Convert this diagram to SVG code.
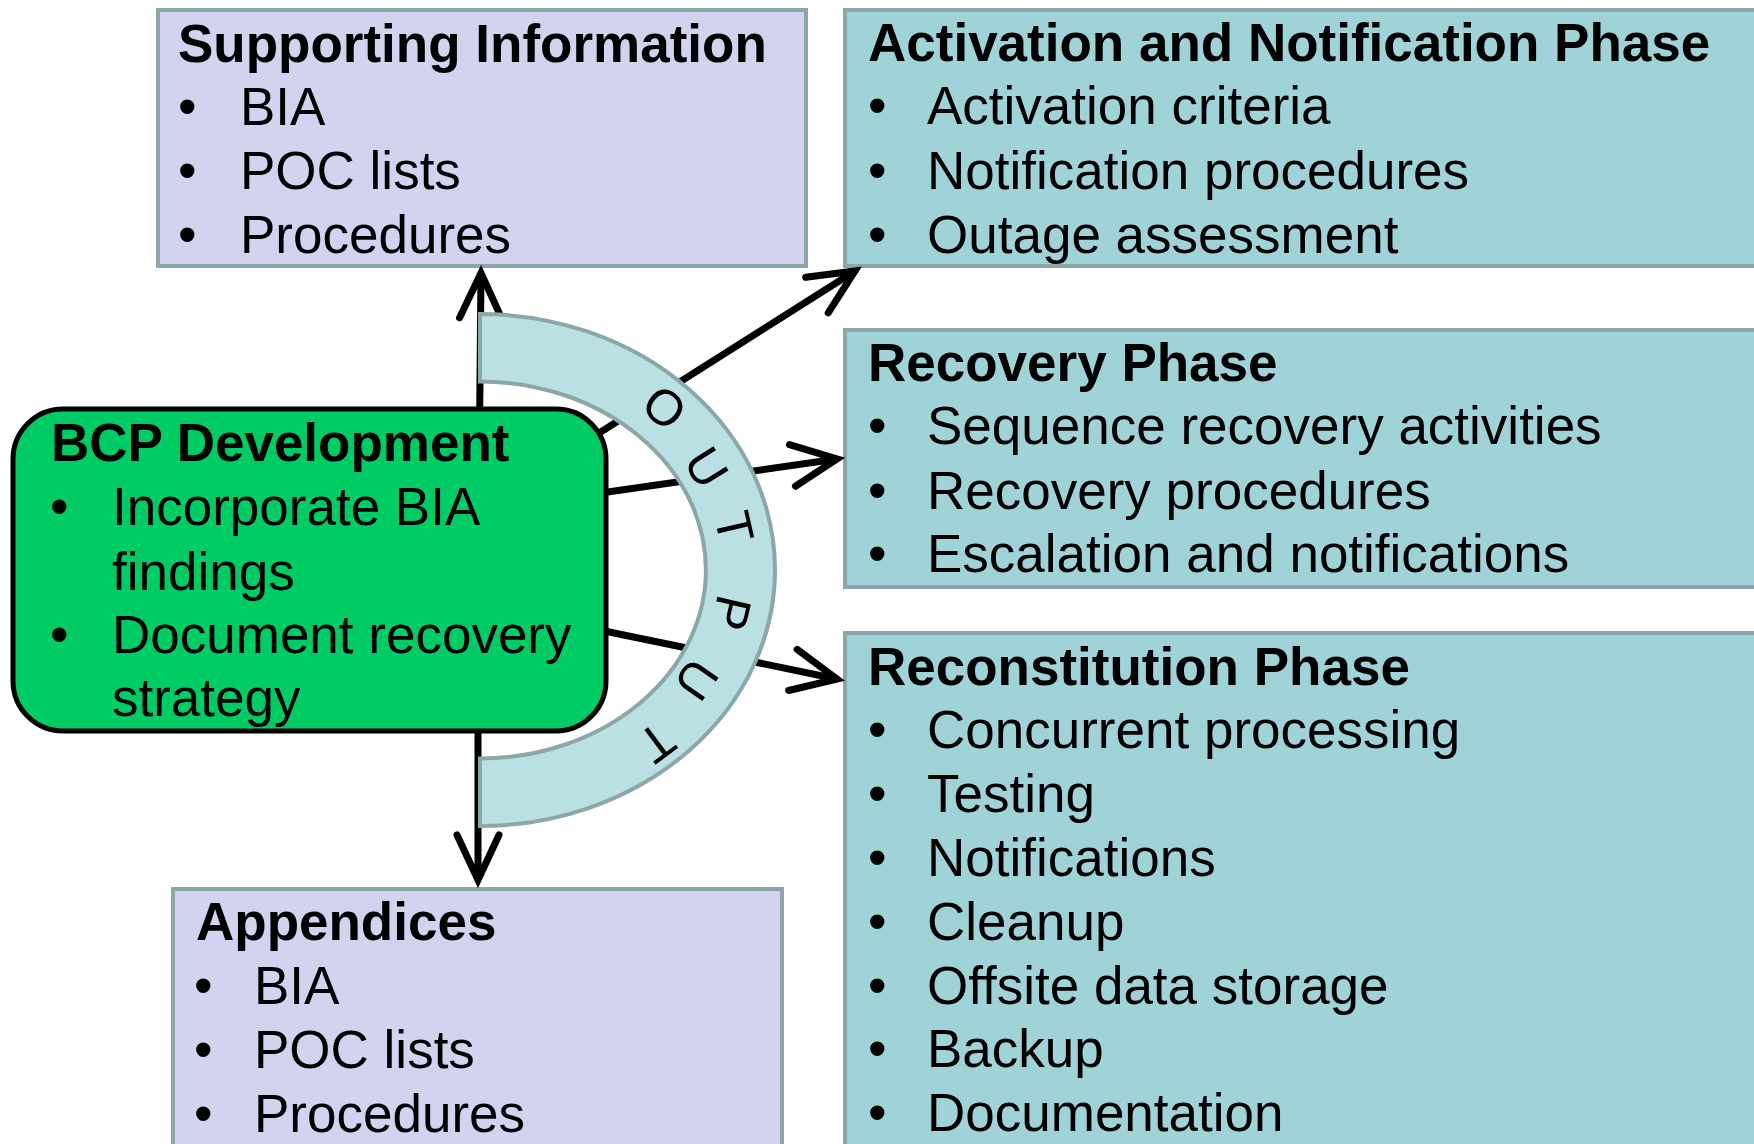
<svg xmlns="http://www.w3.org/2000/svg" width="1754" height="1144" viewBox="0 0 1754 1144">
<defs>
<style>
.t{font-family:"Liberation Sans",Arial,sans-serif;font-size:53px;fill:#000}
.b{font-weight:bold}
.lav{fill:#D1D3EF;stroke:#8BA7A9;stroke-width:4}
.teal{fill:#A0D3D8;stroke:#8BA7A9;stroke-width:4}
.conn{stroke:#000;stroke-width:7;fill:none;marker-end:url(#ah)}
.arcl{font-family:"Liberation Sans",Arial,sans-serif;font-size:50px;fill:#000;text-anchor:middle}
</style>
<marker id="ah" markerUnits="userSpaceOnUse" viewBox="-60 -30 70 60" refX="0" refY="0" markerWidth="70" markerHeight="60" orient="auto" overflow="visible">
<path d="M-45,-21 L0,0 L-45,21" fill="none" stroke="#000" stroke-width="7" stroke-linecap="round" stroke-linejoin="miter"/>
</marker>
</defs>
<rect width="1754" height="1144" fill="#fff"/>

<g id="supporting">
<rect class="lav" x="158" y="10" width="648" height="256"/>
<text class="t b" x="178" y="62">Supporting Information</text>
<text class="t" x="178" y="125">•</text><text class="t" x="240" y="125">BIA</text>
<text class="t" x="178" y="189">•</text><text class="t" x="240" y="189">POC lists</text>
<text class="t" x="178" y="253">•</text><text class="t" x="240" y="253">Procedures</text>
</g>

<g id="activation">
<rect class="teal" x="845" y="10" width="940" height="256"/>
<text class="t b" x="868" y="61">Activation and Notification Phase</text>
<text class="t" x="868" y="124">•</text><text class="t" x="927" y="124">Activation criteria</text>
<text class="t" x="868" y="189">•</text><text class="t" x="927" y="189">Notification procedures</text>
<text class="t" x="868" y="253">•</text><text class="t" x="927" y="253">Outage assessment</text>
</g>

<g id="recovery">
<rect class="teal" x="845" y="330" width="940" height="257"/>
<text class="t b" x="868" y="381">Recovery Phase</text>
<text class="t" x="868" y="444">•</text><text class="t" x="927" y="444">Sequence recovery activities</text>
<text class="t" x="868" y="509">•</text><text class="t" x="927" y="509">Recovery procedures</text>
<text class="t" x="868" y="572">•</text><text class="t" x="927" y="572">Escalation and notifications</text>
</g>

<g id="reconstitution">
<rect class="teal" x="845" y="633" width="940" height="540"/>
<text class="t b" x="868" y="685">Reconstitution Phase</text>
<text class="t" x="868" y="748">•</text><text class="t" x="927" y="748">Concurrent processing</text>
<text class="t" x="868" y="812">•</text><text class="t" x="927" y="812">Testing</text>
<text class="t" x="868" y="876">•</text><text class="t" x="927" y="876">Notifications</text>
<text class="t" x="868" y="940">•</text><text class="t" x="927" y="940">Cleanup</text>
<text class="t" x="868" y="1004">•</text><text class="t" x="927" y="1004">Offsite data storage</text>
<text class="t" x="868" y="1067">•</text><text class="t" x="927" y="1067">Backup</text>
<text class="t" x="868" y="1131">•</text><text class="t" x="927" y="1131">Documentation</text>
</g>

<g id="appendices">
<rect class="lav" x="173" y="889" width="609" height="290"/>
<text class="t b" x="196" y="940">Appendices</text>
<text class="t" x="194" y="1004">•</text><text class="t" x="254" y="1004">BIA</text>
<text class="t" x="194" y="1068">•</text><text class="t" x="254" y="1068">POC lists</text>
<text class="t" x="194" y="1132">•</text><text class="t" x="254" y="1132">Procedures</text>
</g>

<g id="connectors">
<path class="conn" d="M477,700 L481,273"/>
<path class="conn" d="M547,466 L855,271"/>
<path class="conn" d="M580,496 L837,459"/>
<path class="conn" d="M580,626 L837,679"/>
<path class="conn" d="M478,700 L478,880"/>
</g>

<g id="output">
<path d="M480,314 A295,256 0 0 1 480,826 L480,758.5 A226,188.5 0 0 0 480,381.5 Z" fill="#BAE0E3" stroke="#8BA7A9" stroke-width="4" stroke-linejoin="miter"/>
</g>

<g id="bcp">
<rect x="13" y="409" width="593" height="322" rx="50" ry="50" fill="#00CC66" stroke="#000" stroke-width="5"/>
<text class="t b" x="51" y="461">BCP Development</text>
<text class="t" x="50" y="525">•</text><text class="t" x="112" y="525">Incorporate BIA</text>
<text class="t" x="112" y="590">findings</text>
<text class="t" x="50" y="653">•</text><text class="t" x="112" y="653">Document recovery</text>
<text class="t" x="112" y="716">strategy</text>
</g>

<g id="output-label">
<text class="arcl" transform="translate(665,407) rotate(39.6)" y="18">O</text>
<text class="arcl" transform="translate(707,467) rotate(58.1)" y="18">U</text>
<text class="arcl" transform="translate(735,527) rotate(77)" y="18">T</text>
<text class="arcl" transform="translate(732,613) rotate(103.2)" y="18">P</text>
<text class="arcl" transform="translate(697,680) rotate(124.8)" y="18">U</text>
<text class="arcl" transform="translate(657,743) rotate(143.2)" y="18">T</text>
</g>
</svg>
